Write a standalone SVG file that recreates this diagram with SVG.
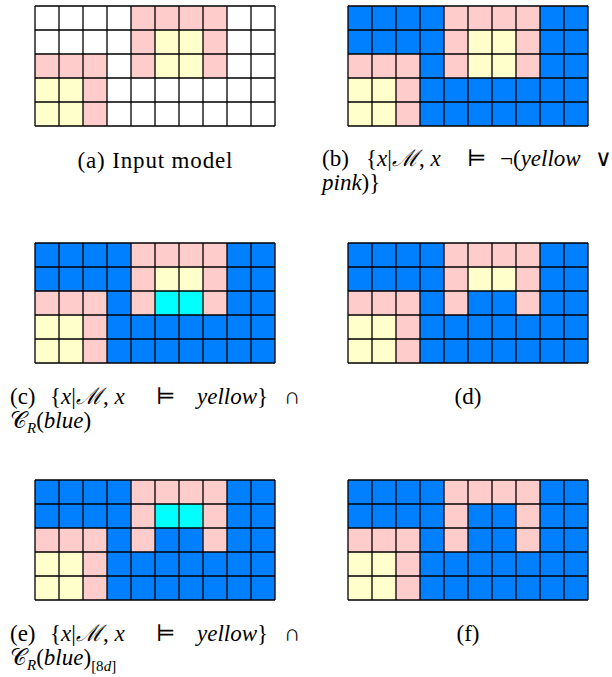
<svg xmlns="http://www.w3.org/2000/svg" xmlns:xlink="http://www.w3.org/1999/xlink" width="612" height="677" viewBox="0 0 612 677">
<style>
.w{fill:#ffffff}.b{fill:#007fff}.p{fill:#ffcccc}.y{fill:#ffffcc}.c{fill:#00ffff}
.g{fill:none;stroke:#000;stroke-width:1.3}
.t{font-family:"Liberation Serif","DejaVu Serif",serif;font-size:23px;fill:#000}
.i{font-style:italic}
.s{font-size:15px}
</style>
<defs>
<path id="grid" class="g" d="M0 0H240M0 24H240M0 48H240M0 72H240M0 96H240M0 120H240M0 0V120M24 0V120M48 0V120M72 0V120M96 0V120M120 0V120M144 0V120M168 0V120M192 0V120M216 0V120M240 0V120"/>
<g id="pk">
<rect class="p" x="96" y="0" width="96" height="24"/>
<rect class="p" x="96" y="24" width="24" height="48"/>
<rect class="p" x="168" y="24" width="24" height="48"/>
<rect class="p" x="0" y="48" width="72" height="24"/>
<rect class="p" x="48" y="72" width="24" height="48"/>
<rect class="y" x="0" y="72" width="48" height="48"/>
</g>
</defs>
<g id="grid-a" transform="translate(35,6)">
<rect class="w" width="240" height="120"/>
<use xlink:href="#pk"/>
<rect class="y" x="120" y="24" width="48" height="48"/>
<use xlink:href="#grid"/>
</g>
<g id="grid-b" transform="translate(348,6)">
<rect class="b" width="240" height="120"/>
<use xlink:href="#pk"/>
<rect class="y" x="120" y="24" width="48" height="48"/>
<use xlink:href="#grid"/>
</g>
<g id="grid-c" transform="translate(35,243)">
<rect class="b" width="240" height="120"/>
<use xlink:href="#pk"/>
<rect class="y" x="120" y="24" width="48" height="24"/>
<rect class="c" x="120" y="48" width="48" height="24"/>
<use xlink:href="#grid"/>
</g>
<g id="grid-d" transform="translate(348,243)">
<rect class="b" width="240" height="120"/>
<use xlink:href="#pk"/>
<rect class="y" x="120" y="24" width="48" height="24"/>
<use xlink:href="#grid"/>
</g>
<g id="grid-e" transform="translate(35,480)">
<rect class="b" width="240" height="120"/>
<use xlink:href="#pk"/>
<rect class="c" x="120" y="24" width="48" height="24"/>
<use xlink:href="#grid"/>
</g>
<g id="grid-f" transform="translate(348,480)">
<rect class="b" width="240" height="120"/>
<use xlink:href="#pk"/>
<use xlink:href="#grid"/>
</g>
<g id="captions" class="t">
<text x="155" y="168" text-anchor="middle" textLength="155">(a) Input model</text>
<text x="322" y="166">(b)<tspan x="366">{<tspan class="i">x</tspan>|<tspan class="i">ℳ</tspan>, <tspan class="i">x</tspan></tspan><tspan x="467">⊨</tspan><tspan x="500">¬(<tspan class="i">yellow</tspan></tspan><tspan x="595">∨</tspan></text>
<text x="322" y="190"><tspan class="i">pink</tspan>)}</text>
<text x="10" y="404">(c)<tspan x="50">{<tspan class="i">x</tspan>|<tspan class="i">ℳ</tspan>, <tspan class="i">x</tspan></tspan><tspan x="156">⊨</tspan><tspan x="197" class="i">yellow</tspan>}<tspan x="284">∩</tspan></text>
<text x="10" y="428">𝒞<tspan class="i s" dy="5">R</tspan><tspan dy="-5">(<tspan class="i">blue</tspan>)</tspan></text>
<text x="468" y="404" text-anchor="middle">(d)</text>
<text x="10" y="641">(e)<tspan x="50">{<tspan class="i">x</tspan>|<tspan class="i">ℳ</tspan>, <tspan class="i">x</tspan></tspan><tspan x="156">⊨</tspan><tspan x="197" class="i">yellow</tspan>}<tspan x="284">∩</tspan></text>
<text x="10" y="665">𝒞<tspan class="i s" dy="5">R</tspan><tspan dy="-5">(<tspan class="i">blue</tspan>)</tspan><tspan class="s" dy="6">[8<tspan class="i">d</tspan>]</tspan></text>
<text x="468" y="641" text-anchor="middle">(f)</text>
</g>
</svg>
